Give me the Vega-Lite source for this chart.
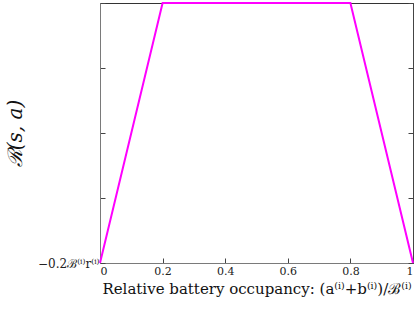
{
  "$schema": "https://vega.github.io/schema/vega-lite/v6.json",
  "width": 313,
  "height": 260,
  "autosize": {"type": "none"},
  "padding": {"left": 100, "top": 3, "right": 1, "bottom": 57},
  "background": "white",
  "config": {
    "view": {"stroke": "#333333", "strokeWidth": 1},
    "font": "DejaVu Serif",
    "axis": {
      "labelFont": "DejaVu Serif",
      "titleFont": "DejaVu Serif",
      "labelColor": "#222",
      "titleColor": "#111",
      "domainColor": "#7a7a7a",
      "tickColor": "#444",
      "grid": false,
      "tickSize": -5,
      "labelFontSize": 11,
      "labelPadding": 9
    }
  },
  "data": {
    "values": [
      {"x": 0, "r": -0.2},
      {"x": 0.2, "r": 0},
      {"x": 0.8, "r": 0},
      {"x": 1, "r": -0.2}
    ]
  },
  "layer": [
    {
      "mark": {"type": "line", "color": "#FF00FF", "strokeWidth": 2},
      "encoding": {
        "x": {
          "field": "x", "type": "quantitative",
          "scale": {"domain": [0, 1], "nice": false},
          "axis": {
            "values": [0, 0.2, 0.4, 0.6, 0.8, 1],
            "format": "~g",
            "title": "Relative battery occupancy: (a⁽ⁱ⁾+b⁽ⁱ⁾)/ℬ⁽ⁱ⁾",
            "titleFontSize": 15,
            "titleFontWeight": "normal",
            "titlePadding": 5,
            "labelPadding": 7
          }
        },
        "y": {
          "field": "r", "type": "quantitative",
          "scale": {"domain": [-0.2, 0], "nice": false},
          "axis": {
            "orient": "left",
            "values": [-0.2, -0.15, -0.1, -0.05, 0],
            "labelExpr": "datum.index == 0 ? '−0.2ℬ⁽ⁱ⁾r⁽ⁱ⁾' : ''",
            "labelFontSize": 12,
            "labelPadding": 6,
            "title": "ℛ(s, a)",
            "titleFontSize": 20,
            "titleFontWeight": "normal",
            "titleFontStyle": "italic",
            "titlePadding": 12
          }
        }
      }
    },
    {
      "mark": {"type": "line", "opacity": 0},
      "encoding": {
        "x": {"field": "x", "type": "quantitative"},
        "y": {
          "field": "r", "type": "quantitative",
          "axis": {
            "orient": "right",
            "values": [-0.2, -0.15, -0.1, -0.05, 0],
            "labels": false,
            "title": null,
            "domainColor": "#444"
          }
        }
      }
    }
  ],
  "resolve": {"axis": {"y": "independent"}}
}
